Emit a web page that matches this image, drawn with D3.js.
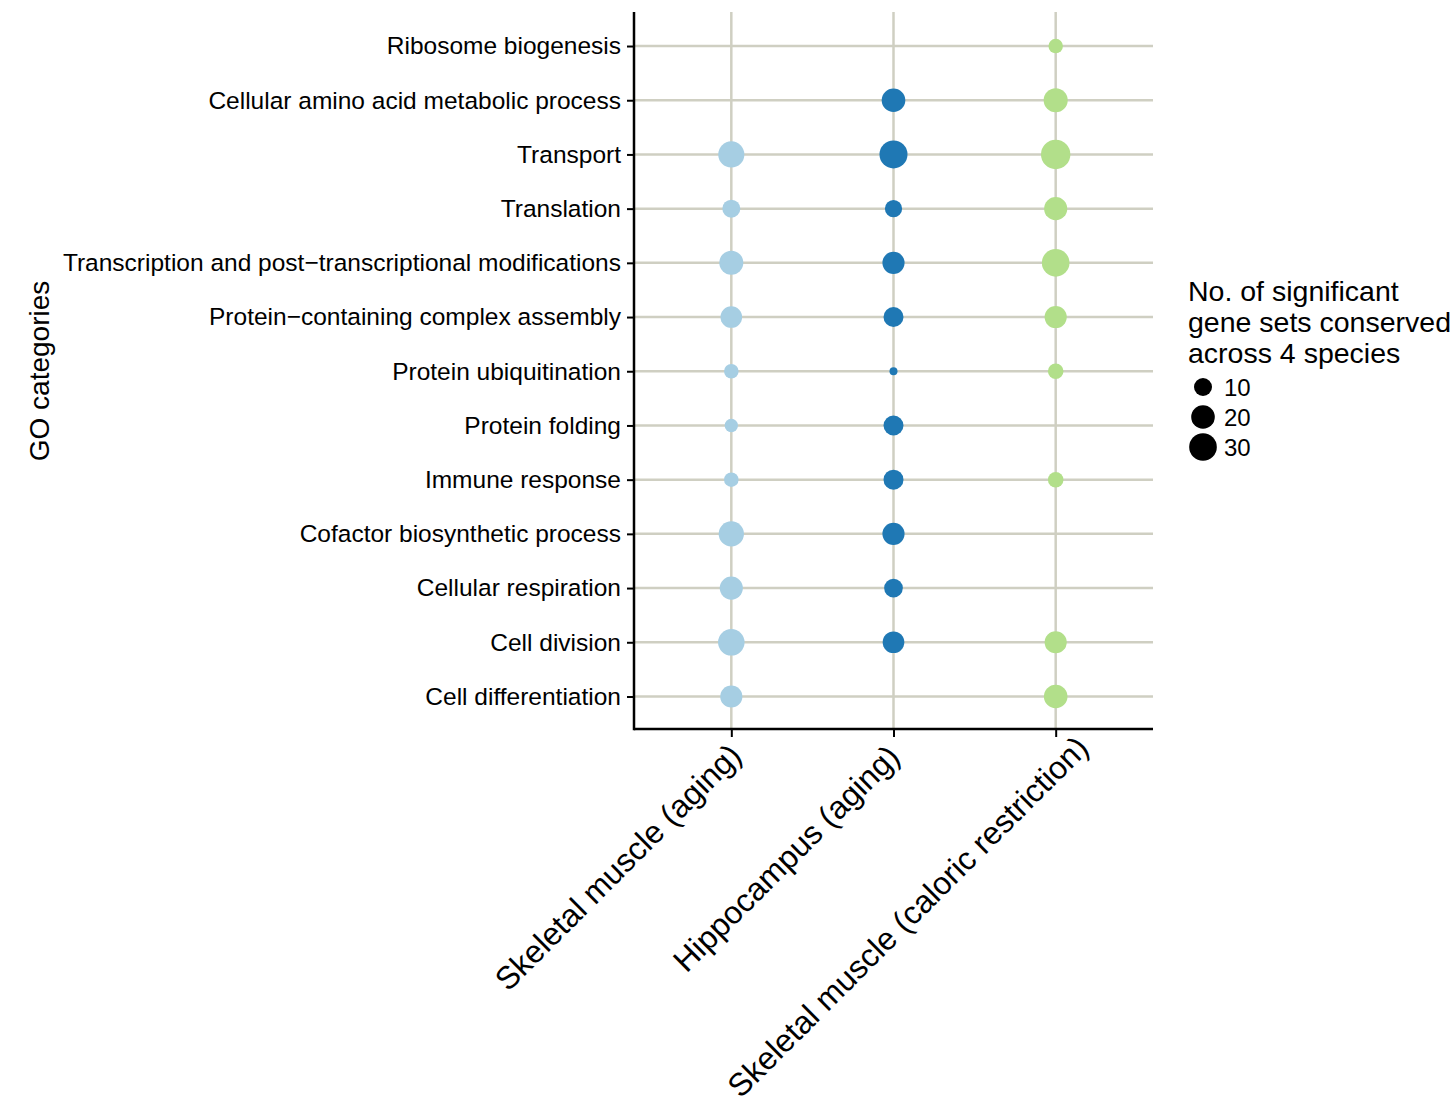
<!DOCTYPE html>
<html>
<head>
<meta charset="utf-8">
<script src="https://cdn.jsdelivr.net/npm/d3@7"></script>
<style>
  body { margin: 0; background: #fff; }
  text { font-family: "Liberation Sans", Arial, Helvetica, sans-serif; fill: #000; }
</style>
</head>
<body>
<script>
var categories = [
  "Ribosome biogenesis",
  "Cellular amino acid metabolic process",
  "Transport",
  "Translation",
  "Transcription and post\u2212transcriptional modifications",
  "Protein\u2212containing complex assembly",
  "Protein ubiquitination",
  "Protein folding",
  "Immune response",
  "Cofactor biosynthetic process",
  "Cellular respiration",
  "Cell division",
  "Cell differentiation"
];

var datasets = ["Skeletal muscle (aging)", "Hippocampus (aging)", "Skeletal muscle (caloric restriction)"];

// values per dataset, in category order (null = no dot)
var muscleAging = [null, null, 26, 10, 21, 16, 6, 5, 6, 24, 19, 27, 17];
var hippocampusAging = [null, 20, 31, 9, 17, 13, 3, 13, 13, 17, 11, 16, null];
var muscleCR = [6, 21, 35, 19, 30, 17, 7, null, 7, null, null, 17, 20];

var colors = ["#a6cee3", "#1f78b4", "#b2df8a"];
var legendValues = [10, 20, 30];

var width = 1450, height = 1107;
var plot = {left: 634, top: 13.5, right: 1153, bottom: 729};

var svg = d3.select("body").append("svg")
    .attr("width", width)
    .attr("height", height);

var x = d3.scalePoint()
    .domain(datasets)
    .range([plot.left, plot.right])
    .padding(0.6);

var y = d3.scalePoint()
    .domain(categories)
    .range([plot.top, plot.bottom])
    .padding(0.6);

var allValues = [muscleAging, hippocampusAging, muscleCR];
var flat = [].concat.apply([], allValues).filter(function(v) { return v != null; });
var vExt = d3.extent(flat);
var size = d3.scaleLinear().domain([0, 1]).range([4, 14.7]);
function radius(v) { return size(Math.sqrt((v - vExt[0]) / (vExt[1] - vExt[0]))); }

var points = [];
allValues.forEach(function(arr, j) {
  arr.forEach(function(v, i) {
    if (v != null) points.push({cat: categories[i], set: datasets[j], v: v, c: colors[j]});
  });
});

// grid
svg.append("g").selectAll("line")
    .data(categories)
  .enter().append("line")
    .attr("x1", plot.left).attr("x2", plot.right)
    .attr("y1", function(d) { return y(d); })
    .attr("y2", function(d) { return y(d); })
    .style("stroke", "#cfcfc2").style("stroke-width", 2.5);

svg.append("g").selectAll("line")
    .data(datasets)
  .enter().append("line")
    .attr("y1", 12).attr("y2", plot.bottom)
    .attr("x1", function(d) { return x(d); })
    .attr("x2", function(d) { return x(d); })
    .style("stroke", "#cfcfc2").style("stroke-width", 2.5);

// dots
svg.selectAll(".dot")
    .data(points)
  .enter().append("circle")
    .attr("class", "dot")
    .attr("cx", function(d) { return x(d.set); })
    .attr("cy", function(d) { return y(d.cat); })
    .attr("r", function(d) { return radius(d.v); })
    .style("fill", function(d) { return d.c; });

// axes
var yAxis = d3.axisLeft(y).tickSize(7).tickPadding(6);
var gy = svg.append("g")
    .attr("transform", "translate(" + plot.left + ",0)")
    .call(yAxis);
gy.select(".domain").remove();
gy.selectAll(".tick line").style("stroke", "#000").style("stroke-width", 2);
gy.selectAll(".tick text").style("font-size", "24.5px").style("fill", "#000");

var xAxis = d3.axisBottom(x).tickSize(8);
var gx = svg.append("g")
    .attr("transform", "translate(0," + plot.bottom + ")")
    .call(xAxis);
gx.select(".domain").remove();
gx.selectAll(".tick line").style("stroke", "#000").style("stroke-width", 2);
gx.selectAll(".tick text")
    .style("font-size", "32px")
    .style("fill", "#000")
    .attr("text-anchor", "end")
    .attr("y", 0).attr("dy", 0)
    .attr("transform", function() {
      var L = this.getComputedTextLength();
      return "translate(" + (-35 + 0.14 * L) + "," + (44 - 0.047 * L) + ") rotate(-45)";
    });

svg.append("line")
    .attr("x1", plot.left).attr("x2", plot.left)
    .attr("y1", 12).attr("y2", plot.bottom + 1.25)
    .style("stroke", "#000").style("stroke-width", 2.5);
svg.append("line")
    .attr("x1", plot.left).attr("x2", plot.right)
    .attr("y1", plot.bottom).attr("y2", plot.bottom)
    .style("stroke", "#000").style("stroke-width", 2.5);

svg.append("text")
    .attr("transform", "translate(49,371) rotate(-90)")
    .style("text-anchor", "middle")
    .style("font-size", "28px")
    .text("GO categories");

// legend
var titleLines = ["No. of significant", "gene sets conserved", "across 4 species"];
svg.append("g").selectAll("text")
    .data(titleLines)
  .enter().append("text")
    .attr("x", 1188)
    .attr("y", function(d, i) { return 301 + i * 31; })
    .style("font-size", "28.5px")
    .text(function(d) { return d; });

var legend = svg.selectAll(".legend")
    .data(legendValues)
  .enter().append("g")
    .attr("class", "legend")
    .attr("transform", function(d, i) { return "translate(1203," + (387 + i * 30) + ")"; });

legend.append("circle")
    .attr("r", function(d) { return radius(d); })
    .style("fill", "#000");

legend.append("text")
    .attr("x", 21)
    .attr("dy", ".36em")
    .style("font-size", "24px")
    .text(function(d) { return d; });
</script>
</body>
</html>
